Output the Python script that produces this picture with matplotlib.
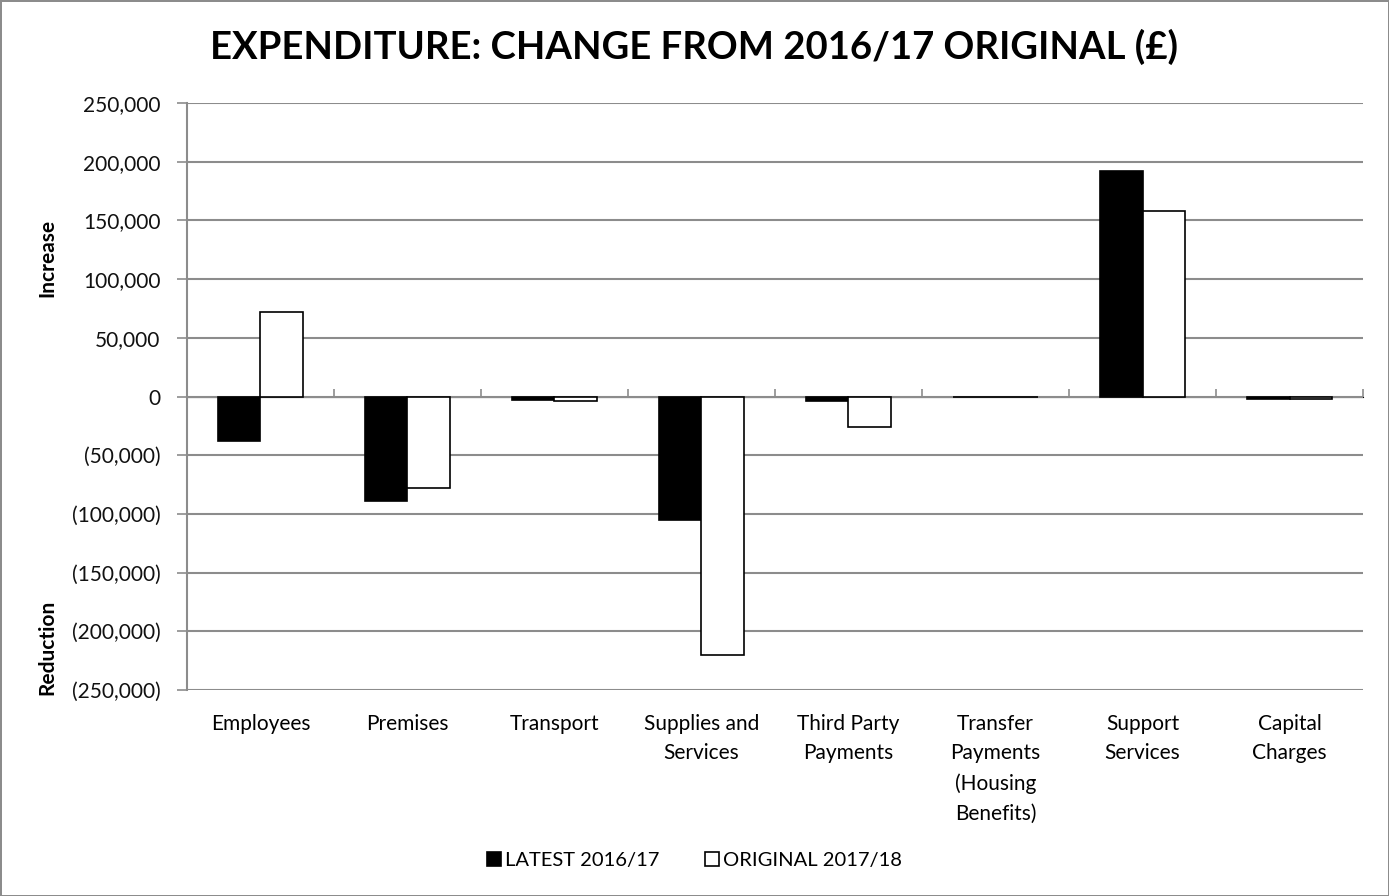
import matplotlib.pyplot as plt
import numpy as np
from matplotlib.ticker import FuncFormatter

categories = ["Employees", "Premises", "Transport", "Supplies and\nServices",
              "Third Party\nPayments", "Transfer\nPayments\n(Housing\nBenefits)",
              "Support\nServices", "Capital\nCharges"]
latest_1617 = [-38000, -89000, -3000, -105000, -4000, 0, 192000, -2500]
original_1718 = [72000, -78000, -4000, -220000, -26000, 0, 158000, -2500]
series_names = ["LATEST 2016/17", "ORIGINAL 2017/18"]

plt.rcParams['font.family'] = ['Lato', 'DejaVu Sans']
grid_col = '#8c8c8c'

fig = plt.figure(figsize=(13.89, 8.96), dpi=100)
ax = fig.add_axes([0.1346, 0.2299, 0.8467, 0.6551])

x = np.arange(len(categories))
w = 0.29
ax.bar(x - w / 2, latest_1617, w, color='black', edgecolor='black',
       linewidth=1.2, label=series_names[0], zorder=3)
ax.bar(x + w / 2, original_1718, w, color='white', edgecolor='black',
       linewidth=1.2, label=series_names[1], zorder=3)

ax.set_xlim(-0.5, len(categories) - 0.5)
ax.set_ylim(-250000, 250000)
ax.set_yticks(np.arange(-250000, 250001, 50000))


def fmt(v, pos):
    if v < 0:
        return "({:,.0f})".format(-v)
    return "{:,.0f}".format(v)


ax.yaxis.set_major_formatter(FuncFormatter(fmt))
ax.yaxis.grid(True, color=grid_col, linewidth=1.5, zorder=0)
ax.tick_params(axis='y', labelsize=15, length=7, color=grid_col, width=1.2,
               pad=12, labelcolor='#111111')

ax.set_xticks(x)
ax.set_xticklabels(categories, fontsize=15, linespacing=1.6)
ax.tick_params(axis='x', length=0, pad=17)

for s in ['top', 'right', 'bottom']:
    ax.spines[s].set_visible(False)
ax.spines['left'].set_color(grid_col)
ax.spines['left'].set_linewidth(1.5)

# zero line with category separators
sec = ax.secondary_xaxis(0.5)
sec.set_xticks([])
sec.set_xticks(np.arange(-0.5, len(categories)), minor=True)
sec.tick_params(which='minor', length=6, color=grid_col, width=1.2,
                direction='out')
sec.spines['bottom'].set_color(grid_col)
sec.spines['bottom'].set_linewidth(1.5)

fig.text(0.5, 0.948, "EXPENDITURE: CHANGE FROM 2016/17 ORIGINAL (£)",
         ha='center', va='center', fontsize=27.5, fontweight='bold')
fig.text(0.034, 0.712, "Increase", rotation=90, ha='center', va='center',
         fontsize=15, fontweight='bold')
fig.text(0.034, 0.277, "Reduction", rotation=90, ha='center', va='center',
         fontsize=15, fontweight='bold')

fig.legend(loc='center', bbox_to_anchor=(0.5, 0.04), ncol=2, frameon=False,
           fontsize=14.5, handlelength=0.7, handleheight=0.7, handletextpad=0.2,
           columnspacing=2.3)

fig.patch.set_edgecolor('#8c8c8c')
fig.patch.set_linewidth(2)
fig.savefig("out.png", dpi=100, edgecolor=fig.get_edgecolor())
